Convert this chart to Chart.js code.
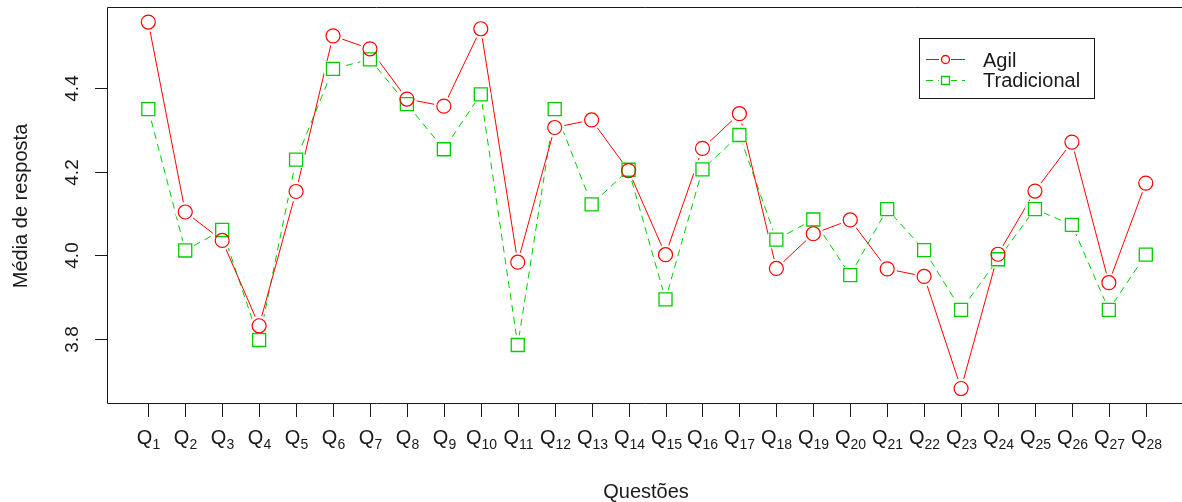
<!DOCTYPE html>
<html>
<head>
<meta charset="utf-8">
<script src="https://cdn.jsdelivr.net/npm/chart.js@4.4.0/dist/chart.umd.min.js"></script>
<style>
  html, body { margin: 0; padding: 0; background: #fff; }
  #wrap { width: 1182px; height: 502px; }
</style>
</head>
<body>
<div id="wrap"><canvas id="myChart" width="1182" height="502"></canvas></div>
<script>
var categories = ['Q1', 'Q2', 'Q3', 'Q4', 'Q5', 'Q6', 'Q7', 'Q8', 'Q9', 'Q10',
                  'Q11', 'Q12', 'Q13', 'Q14', 'Q15', 'Q16', 'Q17', 'Q18', 'Q19', 'Q20',
                  'Q21', 'Q22', 'Q23', 'Q24', 'Q25', 'Q26', 'Q27', 'Q28'];
var agil = [4.558, 4.104, 4.036, 3.832, 4.153, 4.525, 4.494, 4.374, 4.357, 4.542,
            3.984, 4.306, 4.324, 4.203, 4.002, 4.256, 4.339, 3.969, 4.052, 4.085,
            3.968, 3.950, 3.682, 4.003, 4.154, 4.271, 3.935, 4.173];
var tradicional = [4.350, 4.012, 4.061, 3.798, 4.229, 4.446, 4.469, 4.362, 4.254, 4.385,
                   3.786, 4.350, 4.122, 4.205, 3.895, 4.206, 4.288, 4.038, 4.086, 3.953,
                   4.111, 4.013, 3.870, 3.991, 4.111, 4.073, 3.870, 4.002];
var yTicks = [3.8, 4.0, 4.2, 4.4];
var yTickLabels = ['3.8', '4.0', '4.2', '4.4'];
var seriesNames = ['Agil', 'Tradicional'];
var xTitle = 'Questões';
var yTitle = 'Média de resposta';

var RED = '#ff0000';
var GREEN = '#00cd00';
var INK = '#1a1a1a';
var FONT = '"Liberation Sans", Arial, sans-serif';

function toPoints(values) {
    return values.map(function (v, i) { return { x: i + 1, y: v }; });
}

// frame, axes, labels and legend drawn the R way
var rStyle = {
    id: 'rStyle',
    afterDraw: function (chart) {
        var ctx = chart.ctx;
        var a = chart.chartArea;
        var xs = chart.scales.x;
        var ys = chart.scales.y;
        ctx.save();
        ctx.strokeStyle = INK;
        ctx.lineWidth = 1;
        ctx.setLineDash([]);

        // box
        ctx.beginPath();
        ctx.moveTo(a.right + 2, a.top + 0.5);
        ctx.lineTo(a.left + 0.5, a.top + 0.5);
        ctx.lineTo(a.left + 0.5, a.bottom - 0.5);
        ctx.lineTo(a.right + 2, a.bottom - 0.5);
        ctx.stroke();

        // x ticks + labels with subscripts
        ctx.fillStyle = INK;
        ctx.textBaseline = 'alphabetic';
        ctx.textAlign = 'left';
        categories.forEach(function (lab, i) {
            var px = Math.round(xs.getPixelForValue(i + 1)) + 0.5;
            ctx.beginPath();
            ctx.moveTo(px, a.bottom);
            ctx.lineTo(px, a.bottom + 13);
            ctx.stroke();
            var sub = lab.slice(1);
            ctx.font = '20px ' + FONT;
            var wq = ctx.measureText('Q').width;
            ctx.font = '14px ' + FONT;
            var ws = ctx.measureText(sub).width;
            var x0 = px - (wq + ws) / 2;
            ctx.font = '20px ' + FONT;
            ctx.fillText('Q', x0, 444);
            ctx.font = '14px ' + FONT;
            ctx.fillText(sub, x0 + wq, 449);
        });

        // y ticks + rotated labels
        ctx.font = '19px ' + FONT;
        ctx.textAlign = 'center';
        yTicks.forEach(function (v, i) {
            var py = Math.round(ys.getPixelForValue(v)) + 0.5;
            ctx.beginPath();
            ctx.moveTo(a.left - 12, py);
            ctx.lineTo(a.left, py);
            ctx.stroke();
            ctx.save();
            ctx.translate(78, py);
            ctx.rotate(-Math.PI / 2);
            ctx.fillText(yTickLabels[i], 0, 0);
            ctx.restore();
        });

        // axis titles
        ctx.font = '20px ' + FONT;
        ctx.fillText(xTitle, 646, 498);
        ctx.save();
        ctx.translate(27, 206);
        ctx.rotate(-Math.PI / 2);
        ctx.fillText(yTitle, 0, 0);
        ctx.restore();

        // legend
        ctx.fillStyle = '#fff';
        ctx.fillRect(919, 38, 175, 60);
        ctx.strokeStyle = INK;
        ctx.strokeRect(919.5, 38.5, 175, 60);
        var rows = [
            { y: 59.5, color: RED, dash: [], shape: 'circle' },
            { y: 80.5, color: GREEN, dash: [7, 5], shape: 'rect' }
        ];
        rows.forEach(function (r, i) {
            ctx.strokeStyle = r.color;
            ctx.lineWidth = 1;
            ctx.setLineDash(r.dash);
            ctx.beginPath();
            ctx.moveTo(926, r.y);
            ctx.lineTo(965, r.y);
            ctx.stroke();
            ctx.setLineDash([]);
            ctx.fillStyle = '#fff';
            ctx.fillRect(939, r.y - 6, 12, 12);
            ctx.lineWidth = 1.3;
            ctx.beginPath();
            if (r.shape === 'circle') {
                ctx.arc(945.5, r.y, 4, 0, Math.PI * 2);
            } else {
                ctx.rect(941.5, r.y - 4, 8, 8);
            }
            ctx.stroke();
            ctx.fillStyle = INK;
            ctx.textAlign = 'left';
            ctx.font = '20px ' + FONT;
            ctx.fillText(seriesNames[i], 983, i === 0 ? 67 : 87);
        });
        ctx.restore();
    }
};

var ctx = document.getElementById('myChart').getContext('2d');
var chart = new Chart(ctx, {
    type: 'line',
    data: {
        datasets: [
            {
                label: seriesNames[0],
                data: toPoints(agil),
                borderColor: RED,
                borderWidth: 1,
                pointRadius: 0,
                tension: 0,
                order: 3
            },
            {
                label: seriesNames[1],
                data: toPoints(tradicional),
                borderColor: GREEN,
                borderWidth: 1,
                borderDash: [7, 5],
                pointRadius: 0,
                tension: 0,
                order: 3
            },
            {
                // white gaps round the points (R type = "b")
                label: 'gap1',
                data: toPoints(agil),
                showLine: false,
                pointRadius: 10,
                pointBorderWidth: 0,
                pointBackgroundColor: '#fff',
                pointBorderColor: '#fff',
                order: 2
            },
            {
                label: 'gap2',
                data: toPoints(tradicional),
                showLine: false,
                pointRadius: 10,
                pointBorderWidth: 0,
                pointBackgroundColor: '#fff',
                pointBorderColor: '#fff',
                order: 2
            },
            {
                label: seriesNames[0] + ' pts',
                data: toPoints(agil),
                showLine: false,
                pointStyle: 'circle',
                pointRadius: 7,
                pointBorderWidth: 1.2,
                pointBorderColor: RED,
                pointBackgroundColor: 'rgba(0,0,0,0)',
                order: 1
            },
            {
                label: seriesNames[1] + ' pts',
                data: toPoints(tradicional),
                showLine: false,
                pointStyle: 'rect',
                pointRadius: 9.2,
                pointBorderWidth: 1.3,
                pointBorderColor: GREEN,
                pointBackgroundColor: 'rgba(0,0,0,0)',
                order: 1
            }
        ]
    },
    options: {
        responsive: false,
        animation: false,
        devicePixelRatio: 1,
        layout: { autoPadding: false, padding: { top: 7, left: 0, right: 0, bottom: 0 } },
        plugins: {
            legend: { display: false },
            tooltip: { enabled: false }
        },
        scales: {
            x: {
                type: 'linear',
                min: -0.118,
                max: 28.98,
                ticks: { display: false },
                grid: { display: false },
                border: { display: false },
                afterFit: function (scale) { scale.height = 98; }
            },
            y: {
                min: 3.645,
                max: 4.594,
                ticks: { display: false },
                grid: { display: false },
                border: { display: false },
                afterFit: function (scale) { scale.width = 107; }
            }
        }
    },
    plugins: [rStyle]
});
</script>
</body>
</html>
